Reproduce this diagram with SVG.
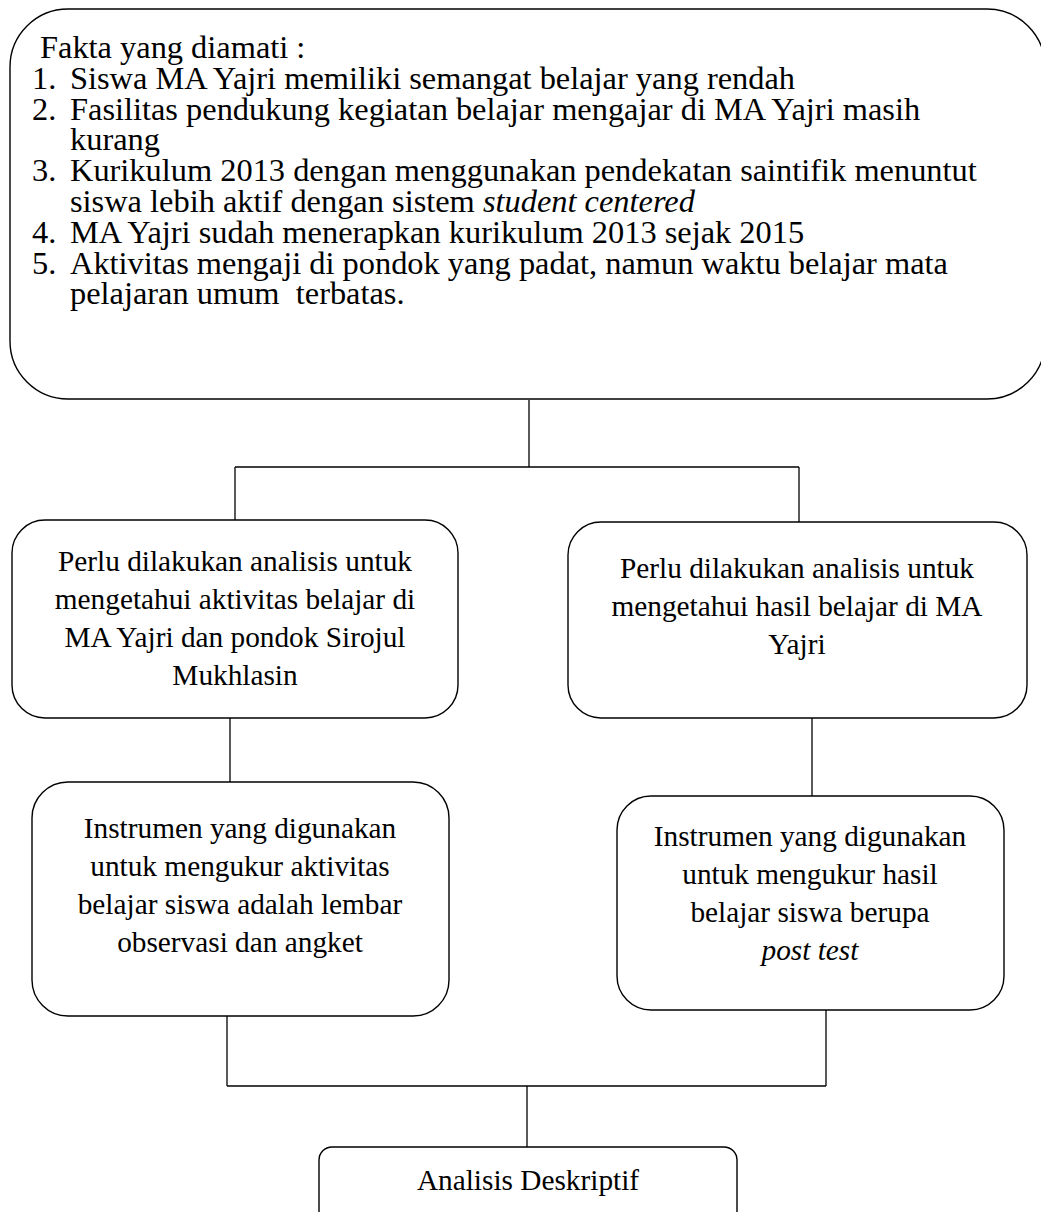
<svg xmlns="http://www.w3.org/2000/svg" width="1041" height="1212" viewBox="0 0 1041 1212">
<style>
.box{fill:#fff;stroke:#000;stroke-width:1.4}
.conn line{stroke:#000;stroke-width:1.3}
.t{font-family:"Liberation Serif","Times New Roman",serif;fill:#000}
.big{font-size:32.4px}
.mid{font-size:29.3px}
.c{text-anchor:middle}
</style>
<rect width="1041" height="1212" fill="#fff"/>
<g id="connectors" class="conn">
<line x1="529" y1="400" x2="529" y2="467"/>
<line x1="235" y1="467" x2="799" y2="467"/>
<line x1="235" y1="467" x2="235" y2="520"/>
<line x1="799" y1="467" x2="799" y2="522"/>
<line x1="230" y1="718" x2="230" y2="782"/>
<line x1="812" y1="718" x2="812" y2="796"/>
<line x1="227" y1="1016" x2="227" y2="1086"/>
<line x1="826" y1="1010" x2="826" y2="1086"/>
<line x1="227" y1="1086" x2="826" y2="1086"/>
<line x1="527" y1="1086" x2="527" y2="1147"/>
</g>
<g id="facts">
<rect class="box" x="10" y="9" width="1035" height="390" rx="58" ry="58"/>
<text class="t big" x="40" y="58">Fakta yang diamati :</text>
<text class="t big" x="32" y="88.8">1.</text>
<text class="t big" x="70" y="88.8">Siswa MA Yajri memiliki semangat belajar yang rendah</text>
<text class="t big" x="32" y="119.6">2.</text>
<text class="t big" x="70" y="119.6">Fasilitas pendukung kegiatan belajar mengajar di MA Yajri masih</text>
<text class="t big" x="70" y="150.4">kurang</text>
<text class="t big" x="32" y="181.2">3.</text>
<text class="t big" x="70" y="181.2">Kurikulum 2013 dengan menggunakan pendekatan saintifik menuntut</text>
<text class="t big" x="70" y="212">siswa lebih aktif dengan sistem <tspan font-style="italic">student centered</tspan></text>
<text class="t big" x="32" y="242.8">4.</text>
<text class="t big" x="70" y="242.8">MA Yajri sudah menerapkan kurikulum 2013 sejak 2015</text>
<text class="t big" x="32" y="273.6">5.</text>
<text class="t big" x="70" y="273.6">Aktivitas mengaji di pondok yang padat, namun waktu belajar mata</text>
<text class="t big" x="70" y="304.4" xml:space="preserve">pelajaran umum  terbatas.</text>
</g>
<g id="analysis-activity">
<rect class="box" x="12" y="520" width="446" height="198" rx="33" ry="33"/>
<text class="t mid c" x="235" y="571">Perlu dilakukan analisis untuk</text>
<text class="t mid c" x="235" y="609">mengetahui aktivitas belajar di</text>
<text class="t mid c" x="235" y="647">MA Yajri dan pondok Sirojul</text>
<text class="t mid c" x="235" y="685">Mukhlasin</text>
</g>
<g id="analysis-result">
<rect class="box" x="568" y="522" width="459" height="196" rx="33" ry="33"/>
<text class="t mid c" x="797" y="578">Perlu dilakukan analisis untuk</text>
<text class="t mid c" x="797" y="616">mengetahui hasil belajar di MA</text>
<text class="t mid c" x="797" y="654">Yajri</text>
</g>
<g id="instrument-activity">
<rect class="box" x="32" y="782" width="417" height="234" rx="36" ry="36"/>
<text class="t mid c" x="240" y="838">Instrumen yang digunakan</text>
<text class="t mid c" x="240" y="876">untuk mengukur aktivitas</text>
<text class="t mid c" x="240" y="914">belajar siswa adalah lembar</text>
<text class="t mid c" x="240" y="952">observasi dan angket</text>
</g>
<g id="instrument-result">
<rect class="box" x="617" y="796" width="387" height="214" rx="34" ry="34"/>
<text class="t mid c" x="810" y="846">Instrumen yang digunakan</text>
<text class="t mid c" x="810" y="884">untuk mengukur hasil</text>
<text class="t mid c" x="810" y="922">belajar siswa berupa</text>
<text class="t mid c" x="810" y="960" font-style="italic">post test</text>
</g>
<g id="descriptive">
<rect class="box" x="319" y="1147" width="418" height="90" rx="13" ry="13"/>
<text class="t mid c" x="528" y="1190">Analisis Deskriptif</text>
</g>
</svg>
